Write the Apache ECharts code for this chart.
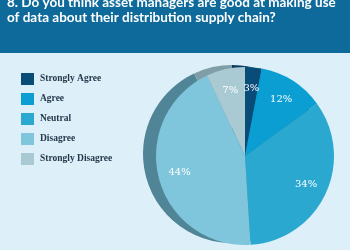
<!DOCTYPE html>
<html>
<head>
<meta charset="utf-8">
<script src="https://cdn.jsdelivr.net/npm/echarts@6/dist/echarts.min.js"></script>
<style>
  html, body { margin: 0; padding: 0; background: #ddf0fa; }
  #chart { width: 350px; height: 250px; }
</style>
</head>
<body>
<div id="chart"></div>
<script>
var titleLines = ["8. Do you think asset managers are good at making use", "of data about their distribution supply chain?"];
var categories = ["Strongly Agree", "Agree", "Neutral", "Disagree", "Strongly Disagree"];
var shares = [3, 12, 34, 44, 7];
var faceColors = ["#0a4c78", "#0a9ed3", "#2aa8cf", "#7fc5db", "#a9cad3"];
var sideColors = ["#083b5c", "#0a7aa3", "#1f7f9c", "#4f8596", "#7f9ea7"];

var chart = echarts.init(document.getElementById("chart"));

function pieData(colors) {
    return categories.map(function (c, i) {
        return {name: c, value: shares[i], itemStyle: {color: colors[i]}};
    });
}

var option = {
    backgroundColor: "#ddf0fa",
    animation: false,
    graphic: [{
        type: "rect", left: 0, top: 0, z: -1,
        shape: {width: 350, height: 53},
        style: {fill: "#0e6a9a"}
    }],
    title: {
        text: titleLines.join("\n"),
        left: 2, top: -10,
        textStyle: {color: "#ffffff", fontSize: 13.5, fontWeight: "bold", fontFamily: "Lato", lineHeight: 15}
    },
    legend: {
        orient: "vertical",
        left: 16, top: 68,
        itemWidth: 13, itemHeight: 12, itemGap: 8,
        icon: "rect",
        data: categories,
        textStyle: {color: "#24394b", fontSize: 9.5, fontWeight: "bold", fontFamily: "Liberation Serif", padding: [0, 0, 0, 1]},
        selectedMode: false
    },
    series: [{
        type: "pie", center: [245, 156], radius: [0, 89], z: 3,
        startAngle: 90, clockwise: true, silent: true,
        label: {show: false}, labelLine: {show: false},
        data: pieData(faceColors)
    }, {
        // darker side of the disc, shifted left
        type: "pie", center: [232, 154], radius: [0, 89], z: 2,
        startAngle: 90, clockwise: true, silent: true,
        label: {show: false}, labelLine: {show: false},
        data: pieData(sideColors)
    }, {
        // label ring, sits further out than the default inside position
        type: "pie", center: [245, 156], radius: [40, 89], z: 4,
        startAngle: 90, clockwise: true, silent: true,
        itemStyle: {color: "rgba(0,0,0,0)"},
        label: {
            show: true, position: "inside", formatter: "{c}%",
            color: "#ffffff", fontSize: 10, fontFamily: "DejaVu Serif"
        },
        labelLine: {show: false},
        data: categories.map(function (c, i) { return {name: c, value: shares[i]}; })
    }]
};

chart.setOption(option);
</script>
</body>
</html>
